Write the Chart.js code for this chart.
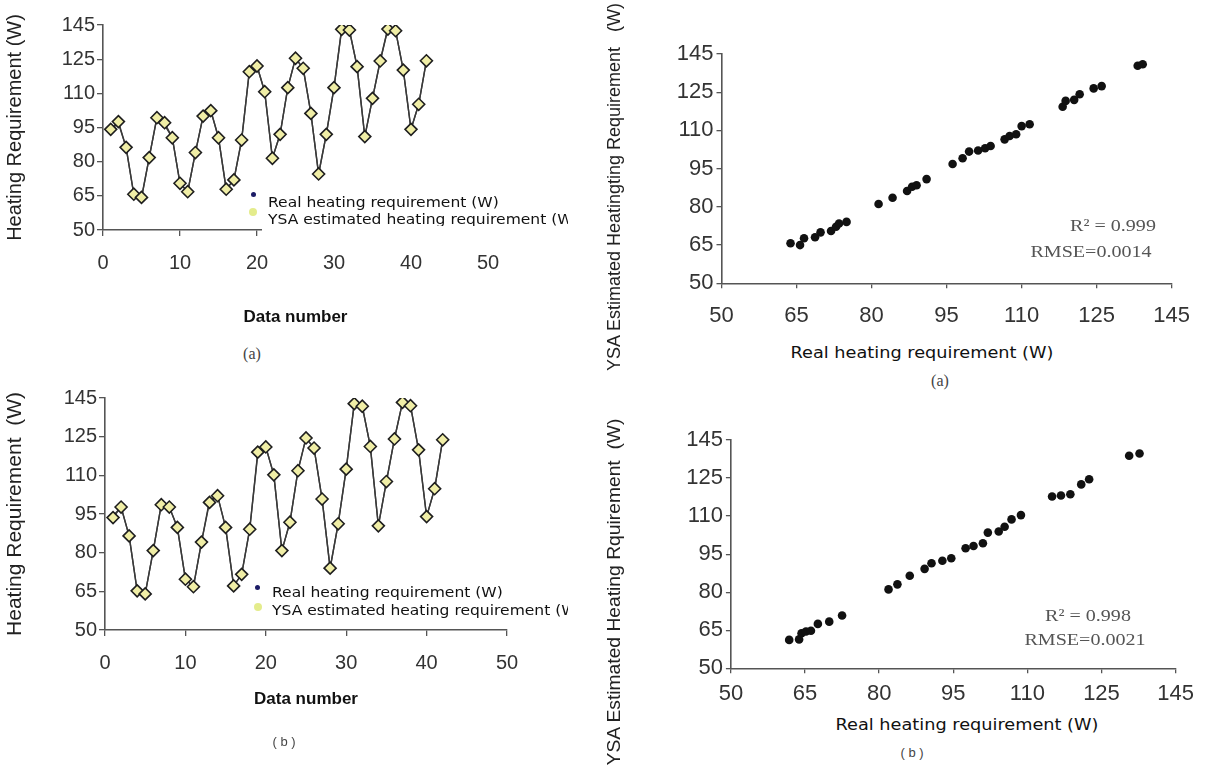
<!DOCTYPE html>
<html>
<head>
<meta charset="utf-8">
<title>Heating requirement</title>
<script src="https://cdn.jsdelivr.net/npm/chart.js@4.4.1/dist/chart.umd.min.js"></script>
<style>
  html, body { margin: 0; padding: 0; background: #fff; }
  body { position: relative; width: 1205px; height: 769px; overflow: hidden; font-family: "Liberation Sans", Arial, sans-serif; color: #222; }
  .panel { position: absolute; }
  .t { position: absolute; white-space: pre; transform: translate(-50%, -50%); line-height: 1; }
  .w { transform: translate(-50%, -50%) scaleX(1.18); }
  .vt { position: absolute; white-space: pre; font-size: 18px; color: #222; line-height: 1; }
  .xt { font-family: "DejaVu Sans", sans-serif; font-size: 15px; color: #111; }
  .cap { font-family: "Liberation Serif", serif; font-size: 16px; color: #444; }
  .capb { font-size: 13px; color: #444; }
  .fit { font-family: "Liberation Serif", serif; font-size: 17px; color: #555; }
  .legend { position: absolute; overflow: hidden; }
  .legend span { position: absolute; white-space: nowrap; font-family: "DejaVu Sans", sans-serif; font-size: 14px; color: #111; line-height: 16px; transform: scaleX(1.11); transform-origin: 0 50%; }
  .legend i { position: absolute; border-radius: 50%; }
  .cover { position: absolute; background: #fff; }
</style>
</head>
<body>

<div class="panel" style="left:0;top:0"><canvas id="lineA" width="575" height="340"></canvas></div>
<div class="panel" style="left:0;top:380px"><canvas id="lineB" width="575" height="360"></canvas></div>
<div class="panel" style="left:595px;top:0"><canvas id="scatA" width="610" height="330"></canvas></div>
<div class="panel" style="left:595px;top:400px"><canvas id="scatB" width="610" height="310"></canvas></div>

<!-- legend of (a) hides the end of the x axis, like in the original -->
<div class="cover" style="left:262px;top:225px;width:306px;height:14px"></div>
<div class="legend" style="left:246px;top:186px;width:322px;height:40px">
  <i style="left:5px;top:6px;width:5px;height:5px;background:#1c1c66"></i>
  <i style="left:3px;top:22px;width:8px;height:8px;background:#e4ec8c"></i>
  <span style="left:22px;top:8px">Real heating requirement (W)</span>
  <span style="left:22px;top:25px">YSA estimated heating requirement (W)</span>
</div>
<div class="legend" style="left:250px;top:576px;width:318px;height:44px">
  <i style="left:5px;top:9px;width:5px;height:5px;background:#1c1c66"></i>
  <i style="left:4px;top:27px;width:8px;height:8px;background:#e4ec8c"></i>
  <span style="left:22px;top:8px">Real heating requirement (W)</span>
  <span style="left:22px;top:26px">YSA estimated heating requirement (W)</span>
</div>

<div class="t cap" style="left:252px;top:354px">(a)</div>
<div class="t capb" style="left:284px;top:741px">( b )</div>

<div class="vt" style="left:614px;top:187px;transform:translate(-50%,-50%) rotate(-90deg)">YSA Estimated Heatingting Requirement   (W)</div>
<div class="vt" style="left:614px;top:592px;transform:translate(-50%,-50%) rotate(-90deg) scaleX(1.07)">YSA Estimated Heating Rquirement  (W)</div>
<div class="t xt w" style="left:922px;top:353px">Real heating requirement (W)</div>
<div class="t xt w" style="left:967px;top:725px">Real heating requirement (W)</div>
<div class="t cap" style="left:940px;top:381px">(a)</div>
<div class="t capb" style="left:912px;top:752px">( b )</div>

<div class="t fit w" style="left:1113px;top:225px">R² = 0.999</div>
<div class="t fit w" style="left:1091px;top:251px">RMSE=0.0014</div>
<div class="t fit w" style="left:1088px;top:615px">R² = 0.998</div>
<div class="t fit w" style="left:1085px;top:639px">RMSE=0.0021</div>

<script>
// tick labels (top tick is printed as 145 in the original)
var yTickLabels = ['50', '65', '80', '95', '110', '125', '145'];
var dataTickLabels = ['0', '10', '20', '30', '40', '50'];

var dataNumber = [];
for (var i = 1; i <= 42; i++) dataNumber.push(i);

// (a) left: real and YSA estimated heating requirement per data number
var realA = [94.2, 96.8, 86.3, 65.7, 64.0, 81.8, 99.3, 96.0, 90.5, 70.5, 66.8, 84.0, 100.0, 102.4,
             90.5, 67.9, 72.0, 89.5, 119.5, 122.0, 110.7, 81.5, 92.0, 112.5, 125.4, 121.0, 101.2,
             74.6, 92.0, 112.5, 138.6, 137.8, 121.7, 91.0, 107.8, 124.2, 138.8, 137.5, 120.2, 94.2, 105.2, 124.3];
var ysaA = [94.2, 97.6, 86.3, 65.7, 64.3, 81.8, 99.3, 97.1, 90.5, 70.5, 66.8, 84.0, 100.0, 102.4,
            90.5, 67.9, 72.0, 89.5, 119.5, 122.0, 110.7, 81.5, 92.0, 112.5, 125.4, 121.0, 101.2,
            74.6, 92.0, 112.5, 138.1, 137.8, 121.7, 91.0, 107.8, 124.2, 138.2, 137.5, 120.2, 94.2, 105.2, 124.3];

// (b) left
var realB = [94.3, 97.7, 86.5, 65.2, 64.0, 80.8, 98.6, 97.7, 89.8, 69.7, 66.8, 84.1, 100.3, 102.1,
             89.8, 67.1, 71.6, 89.1, 118.2, 121.0, 110.2, 80.8, 91.8, 111.8, 124.5, 120.6, 100.8,
             74.0, 91.2, 112.4, 137.8, 136.8, 121.2, 90.4, 107.6, 124.1, 138.3, 137.0, 119.9, 94.0, 104.8, 123.8];
var ysaB = [93.6, 97.7, 86.5, 65.2, 64.0, 80.8, 98.6, 97.7, 89.8, 69.7, 66.8, 84.1, 99.5, 102.1,
            89.8, 67.1, 71.6, 89.1, 119.0, 121.0, 110.2, 80.8, 91.8, 111.8, 124.5, 120.6, 100.8,
            74.0, 91.2, 112.4, 137.8, 136.8, 121.2, 90.4, 107.6, 124.1, 138.3, 137.0, 119.9, 94.0, 104.8, 123.8];

// (a) right: real vs estimated
var scatARealX = [63.8, 65.7, 66.5, 68.7, 69.8, 71.9, 72.9, 73.5, 75.0, 81.4, 84.2, 87.1, 88.1, 89.0, 91.0,
                  96.2, 98.2, 99.5, 101.3, 102.7, 103.8, 106.6, 107.6, 108.9, 110.0, 111.6,
                  118.2, 118.8, 120.5, 121.6, 124.4, 126.0, 133.2, 134.2];
var scatAEstY = [65.7, 65.0, 67.7, 68.1, 70.0, 70.5, 72.2, 73.5, 74.1, 81.1, 83.6, 86.2, 87.9, 88.5, 90.9,
                 96.8, 99.1, 101.7, 102.1, 103.0, 103.9, 106.5, 107.8, 108.5, 111.7, 112.4,
                 119.3, 121.6, 122.0, 124.2, 126.5, 127.4, 135.4, 136.0];

// (b) right
var scatBRealX = [61.8, 63.8, 64.3, 65.2, 66.2, 67.6, 69.9, 72.5, 81.9, 83.7, 86.2, 89.2, 90.6, 92.8, 94.6,
                  97.5, 99.1, 101.0, 102.0, 104.2, 105.4, 106.8, 108.7, 115.0, 116.8, 118.7,
                  120.9, 122.5, 130.6, 132.7];
var scatBEstY = [61.2, 61.4, 63.8, 64.5, 64.8, 67.5, 68.4, 70.8, 81.1, 83.1, 86.5, 89.2, 91.4, 92.4, 93.4,
                 97.3, 98.2, 99.3, 103.5, 103.9, 105.8, 108.7, 110.4, 117.7, 118.1, 118.6,
                 122.5, 124.5, 133.8, 134.7];

function pairs(xs, ys) {
    return xs.map(function(x, i) { return { x: x, y: ys[i] }; });
}

function font(size, weight) {
    return { family: 'Liberation Sans', size: size, weight: weight || 'normal' };
}

function valueAxis(o) {
    // 50..140 in steps of 15, labelled from yTickLabels
    return {
        type: 'linear', min: 50, max: 140,
        ticks: { stepSize: 15, padding: o.pad, color: '#333', font: font(o.size),
                 callback: function(v, i) { return yTickLabels[i]; } },
        grid: { drawOnChartArea: false, tickLength: o.tick, color: '#555', lineWidth: 1.3 },
        border: { color: '#555', width: 1.6 }
    };
}

function lineChart(id, real, ysa, o) {
    var y = valueAxis({ pad: 2, size: 20, tick: 6 });
    y.title = { display: true, text: o.yTitle, color: '#222', font: font(o.titleSize), padding: { top: 3, bottom: 0 } };
    y.afterFit = function(s) { s.width = o.yWidth; };

    return new Chart(document.getElementById(id), {
        type: 'line',
        data: {
            datasets: [{
                label: 'YSA estimated heating requirement (W)',
                data: pairs(dataNumber, ysa),
                order: 0,
                borderColor: '#3a3a3a', borderWidth: 1.4,
                pointStyle: 'rectRot', pointRadius: 6,
                pointBackgroundColor: '#f0eea6', pointBorderColor: '#1e1e1e', pointBorderWidth: 1.6
            }, {
                label: 'Real heating requirement (W)',
                data: pairs(dataNumber, real),
                order: 1,
                borderColor: '#3a3a3a', borderWidth: 1.4,
                pointRadius: 3, pointBackgroundColor: '#1c1c5e', pointBorderWidth: 0
            }]
        },
        options: {
            responsive: false, animation: false, events: [],
            layout: { padding: { left: 0, top: o.top, right: o.right, bottom: 0 } },
            plugins: { legend: { display: false }, tooltip: { enabled: false } },
            scales: {
                x: {
                    type: 'linear', min: 0, max: 50,
                    ticks: { stepSize: 10, padding: 15, color: '#333', font: font(20),
                             callback: function(v, i) { return dataTickLabels[i]; } },
                    grid: { drawOnChartArea: false, tickLength: 6, color: '#555', lineWidth: 1.3 },
                    border: { color: '#555', width: 1.6 },
                    title: { display: true, text: 'Data number', color: '#111', font: font(17, 'bold'),
                             padding: { top: 0, bottom: o.titlePad } },
                    afterFit: function(s) { s.height = o.xHeight; }
                },
                y: y
            }
        }
    });
}

function scatterChart(id, xs, ys, o) {
    var x = valueAxis({ pad: o.xPad, size: 22, tick: 5 });
    x.afterFit = function(s) { s.height = o.xHeight; };
    var y = valueAxis({ pad: 3, size: 22, tick: 5 });
    y.afterFit = function(s) { s.width = o.yWidth; };

    return new Chart(document.getElementById(id), {
        type: 'scatter',
        data: {
            datasets: [{
                data: pairs(xs, ys),
                pointRadius: 4.3, pointBackgroundColor: '#111', pointBorderWidth: 0
            }]
        },
        options: {
            responsive: false, animation: false, events: [],
            layout: { padding: { left: 0, top: o.top, right: o.right, bottom: 0 } },
            plugins: { legend: { display: false }, tooltip: { enabled: false } },
            scales: { x: x, y: y }
        }
    });
}

lineChart('lineA', realA, ysaA, { yTitle: 'Heating Requirement (W)', titleSize: 20, yWidth: 103, top: 25, right: 87, xHeight: 110, titlePad: 12 });
lineChart('lineB', realB, ysaB, { yTitle: 'Heating Requirement  (W)', titleSize: 21, yWidth: 105, top: 18, right: 68, xHeight: 110, titlePad: 30 });
scatterChart('scatA', scatARealX, scatAEstY, { yWidth: 126.5, top: 54, right: 33.3, xHeight: 46.7, xPad: 14 });
scatterChart('scatB', scatBRealX, scatBEstY, { yWidth: 135.9, top: 40, right: 29.4, xHeight: 41.7, xPad: 7 });
</script>
</body>
</html>
